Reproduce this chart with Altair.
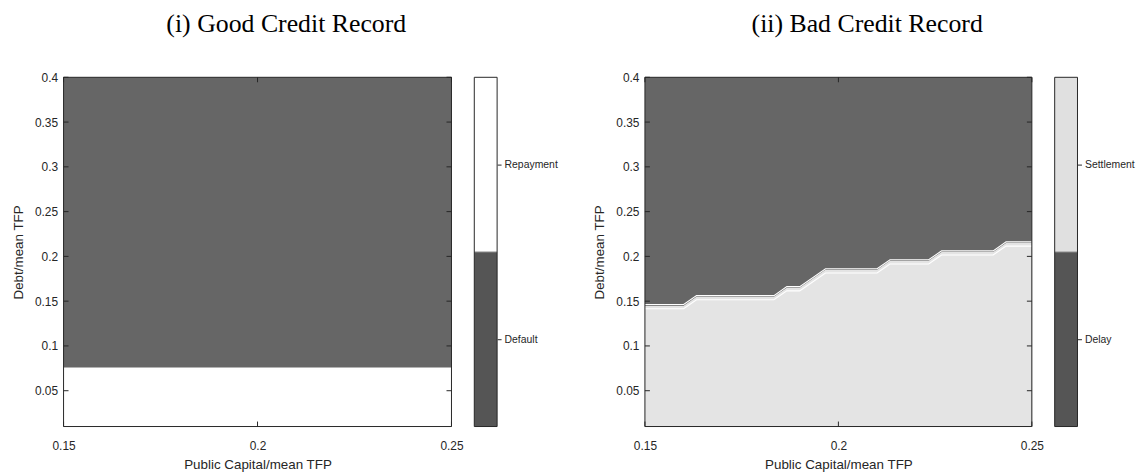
import altair as alt
import pandas as pd

# ---------------- data ----------------
x_domain = [0.15, 0.25]
y_domain = [0.01, 0.4]
x_ticks = [0.15, 0.2, 0.25]
y_ticks = [0.05, 0.1, 0.15, 0.2, 0.25, 0.3, 0.35, 0.4]

# (i) good credit record: repayment below this debt level, default above
good_threshold = 0.076
good_states = ["Default", "Repayment"]

# (ii) bad credit record: settlement below the boundary, delay above
bad_x = [0.15, 0.16, 0.16333, 0.18333, 0.18667, 0.19, 0.19667,
         0.21, 0.21333, 0.22333, 0.22667, 0.24, 0.24333, 0.25]
bad_y = [0.145, 0.145, 0.155, 0.155, 0.165, 0.165, 0.185,
         0.185, 0.195, 0.195, 0.205, 0.205, 0.215, 0.215]
bad_states = ["Delay", "Settlement"]

titles = ["(i) Good Credit Record", "(ii) Bad Credit Record"]
x_title = "Public Capital/mean TFP"
y_title = "Debt/mean TFP"

# ---------------- style ----------------
W1, W2, H = 391, 390, 352
CBW = 23
SP = 23
SPACER = 103
TXT = "#262626"
DARK = "#666666"
CB_DARK = "#555555"
LIGHT = "#e4e4e4"
CB_LIGHT = "#e0e0e0"
SANS = "Liberation Sans"
SERIF = "Liberation Serif"

xs = alt.Scale(domain=x_domain, nice=False, zero=False)
ys = alt.Scale(domain=y_domain, nice=False, zero=False)

x_axis = alt.Axis(values=x_ticks, format="~g", domain=False, ticks=False, grid=False,
                  labelFlush=False, labelOverlap=False,
                  labelFont=SANS, labelFontSize=12, labelColor=TXT, labelPadding=14,
                  title=x_title, titleFont=SANS, titleFontSize=13.5, titleFontWeight="normal",
                  titleColor=TXT, titlePadding=6)
y_axis = alt.Axis(values=y_ticks, format="~g", domain=False, ticks=False, grid=False,
                  labelFlush=False, labelOverlap=False,
                  labelFont=SANS, labelFontSize=12, labelColor=TXT, labelPadding=6,
                  title=y_title, titleFont=SANS, titleFontSize=13.5, titleFontWeight="normal",
                  titleColor=TXT, titlePadding=9)

xt = pd.DataFrame({"v": x_ticks})
yt = pd.DataFrame({"v": y_ticks})
one = pd.DataFrame({"a": [0]})


def ticks_and_frame(W):
    tl = alt.Chart(yt).mark_rule(color=TXT, strokeWidth=1).encode(
        y=alt.Y("v:Q", scale=ys, axis=y_axis), x=alt.value(0), x2=alt.value(5))
    tr = alt.Chart(yt).mark_rule(color=TXT, strokeWidth=1).encode(
        y=alt.Y("v:Q", scale=ys, axis=y_axis), x=alt.value(W - 5), x2=alt.value(W))
    tb = alt.Chart(xt).mark_rule(color=TXT, strokeWidth=1).encode(
        x=alt.X("v:Q", scale=xs, axis=x_axis), y=alt.value(H), y2=alt.value(H - 5))
    tt = alt.Chart(xt).mark_rule(color=TXT, strokeWidth=1).encode(
        x=alt.X("v:Q", scale=xs, axis=x_axis), y=alt.value(0), y2=alt.value(5))
    fr = alt.Chart(one).mark_rect(filled=False, stroke=TXT, strokeWidth=1).encode(
        x=alt.value(0), x2=alt.value(W), y=alt.value(0), y2=alt.value(H))
    return [tl, tr, tb, tt, fr]


def title_params(t):
    return alt.TitleParams(text=t, font=SERIF, fontSize=26, fontWeight="normal",
                           color="black", anchor="middle", offset=35, dx=29)


# ---------------- panel (i) ----------------
good_df = pd.DataFrame({
    "state": ["Repayment", "Default"],
    "x0": [x_domain[0], x_domain[0]], "x1": [x_domain[1], x_domain[1]],
    "y0": [y_domain[0], good_threshold], "y1": [good_threshold, y_domain[1]],
})
good_rect = alt.Chart(good_df).mark_rect().encode(
    x=alt.X("x0:Q", scale=xs, axis=x_axis), x2="x1:Q",
    y=alt.Y("y0:Q", scale=ys, axis=y_axis), y2="y1:Q",
    color=alt.Color("state:N", scale=alt.Scale(domain=good_states, range=[DARK, "#ffffff"]), legend=None),
)
p1 = alt.layer(good_rect, *ticks_and_frame(W1)).properties(
    width=W1, height=H, title=title_params(titles[0]))

# ---------------- panel (ii) ----------------
bg_df = pd.DataFrame({"x0": [x_domain[0]], "x1": [x_domain[1]],
                      "y0": [y_domain[0]], "y1": [y_domain[1]]})
bad_bg = alt.Chart(bg_df).mark_rect(color=DARK).encode(
    x=alt.X("x0:Q", scale=xs, axis=x_axis), x2="x1:Q",
    y=alt.Y("y0:Q", scale=ys, axis=y_axis), y2="y1:Q")
bnd = pd.DataFrame({"x": bad_x, "y": bad_y})
bad_area = alt.Chart(bnd).mark_area(color=LIGHT, opacity=1, clip=True).encode(
    x=alt.X("x:Q", scale=xs, axis=x_axis),
    y=alt.Y("y:Q", scale=ys, axis=y_axis),
    y2=alt.datum(y_domain[0]))
line_a = alt.Chart(bnd).transform_calculate(yy="datum.y + 0.0012").mark_line(
    color="white", strokeWidth=1.1, clip=True).encode(
    x=alt.X("x:Q", scale=xs, axis=x_axis), y=alt.Y("yy:Q", scale=ys, axis=y_axis))
line_b = alt.Chart(bnd).transform_calculate(yy="datum.y - 0.0035").mark_line(
    color="white", strokeWidth=1.1, clip=True).encode(
    x=alt.X("x:Q", scale=xs, axis=x_axis), y=alt.Y("yy:Q", scale=ys, axis=y_axis))
p2 = alt.layer(bad_bg, bad_area, line_a, line_b, *ticks_and_frame(W2)).properties(
    width=W2, height=H, title=title_params(titles[1]))


# ---------------- colorbars ----------------
def colorbar(states, top_color):
    df = pd.DataFrame({"state": states, "y0": [0, 1], "y1": [1, 2], "x0": [0, 0], "x1": [1, 1]})
    expr = f"datum.value < 1 ? '{states[0]}' : '{states[1]}'"
    cs = alt.Scale(domain=[0, 2], nice=False, zero=False)
    rect = alt.Chart(df).mark_rect().encode(
        x=alt.X("x0:Q", scale=alt.Scale(domain=[0, 1]), axis=None), x2="x1:Q",
        y=alt.Y("y0:Q", scale=cs, axis=alt.Axis(
            orient="right", values=[0.5, 1.5], labelExpr=expr, domain=False, grid=False,
            ticks=True, tickSize=4, tickColor=TXT, tickWidth=1, labelFlush=False,
            labelFont=SANS, labelFontSize=10.5, labelColor=TXT, labelPadding=3, title=None)),
        y2="y1:Q",
        color=alt.Color("state:N", scale=alt.Scale(domain=states, range=[CB_DARK, top_color]), legend=None),
    )
    sep = alt.Chart(one).mark_rule(color="#9a9a9a", strokeWidth=1).encode(
        y=alt.datum(1, scale=cs), x=alt.value(0), x2=alt.value(CBW))
    fr = alt.Chart(one).mark_rect(filled=False, stroke=TXT, strokeWidth=1).encode(
        x=alt.value(0), x2=alt.value(CBW), y=alt.value(0), y2=alt.value(H))
    return alt.layer(rect, sep, fr).properties(width=CBW, height=H)


cb1 = colorbar(good_states, "#ffffff")
cb2 = colorbar(bad_states, CB_LIGHT)

spacer = alt.Chart(one).mark_point(opacity=0).encode(
    x=alt.value(0), y=alt.value(0)).properties(width=SPACER, height=H)

chart = alt.hconcat(p1, cb1, spacer, p2, cb2, spacing=SP, bounds="flush").resolve_scale(
    color="independent", x="independent", y="independent"
).properties(
    padding={"left": 3, "top": 0, "right": 5, "bottom": 0}, background="white"
).configure_view(stroke="transparent")

chart.save("out.html", embed_options={"renderer": "svg", "actions": False})
